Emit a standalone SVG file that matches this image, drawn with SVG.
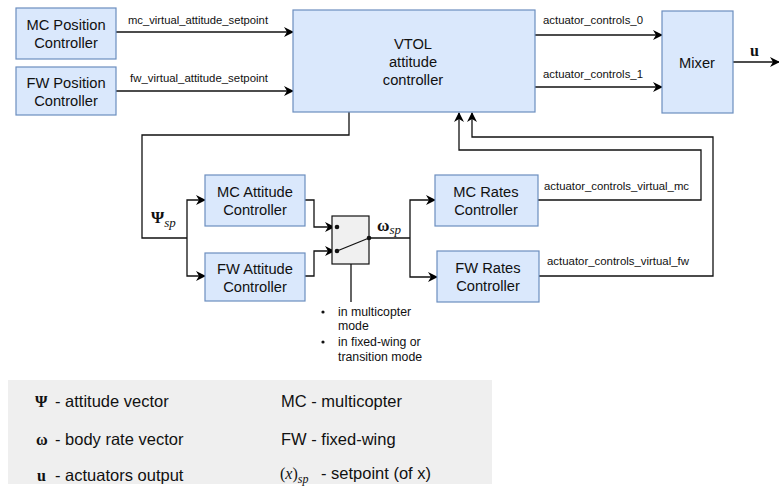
<svg xmlns="http://www.w3.org/2000/svg" width="779" height="493" viewBox="0 0 779 493">
<defs>
<marker id="ah" viewBox="0 0 10 10" refX="9" refY="5" markerWidth="10" markerHeight="10" markerUnits="userSpaceOnUse" orient="auto">
<path d="M0,0 L10,5 L0,10 L3,5 Z" fill="#000"/>
</marker>
<style>
.box{fill:#dae8fc;stroke:#6c8ebf;stroke-width:1.2}
.t{font-family:"Liberation Sans",Arial,sans-serif;font-size:14.7px;fill:#111;text-anchor:middle}
.el{font-family:"Liberation Sans",Arial,sans-serif;font-size:11px;fill:#111}
.ln{fill:none;stroke:#111;stroke-width:1.3}
.ar{fill:none;stroke:#111;stroke-width:1.3;marker-end:url(#ah)}
.m{font-family:"Liberation Serif","Times New Roman",serif;fill:#111}
.lg{font-family:"Liberation Sans",Arial,sans-serif;font-size:16.5px;fill:#111}
.bl{font-family:"Liberation Sans",Arial,sans-serif;font-size:12.3px;fill:#111}
</style>
</defs>
<rect width="779" height="493" fill="#fff"/>
<g id="connectors">
<path class="ar" d="M116,32 H293"/>
<path class="ar" d="M116,91 H293"/>
<path class="ar" d="M535,35 H662"/>
<path class="ar" d="M535,87 H662"/>
<path class="ar" d="M733,62 H779"/>
<path class="ln" d="M349,112 V135 H142 V238 H187"/>
<path class="ar" d="M187,238 V200 H205"/>
<path class="ar" d="M187,238 V276 H205"/>
<path class="ar" d="M305,200 H314 V227 H334"/>
<path class="ar" d="M305,276 H314 V251 H334"/>
<path class="ln" d="M369,238 H410"/>
<path class="ar" d="M410,238 V200 H435"/>
<path class="ar" d="M410,238 V277 H437"/>
<path class="ar" d="M538,200 H701 V150 H459 V113"/>
<path class="ar" d="M539,276 H713 V137 H472 V113"/>
<path class="ln" d="M351,264 V302"/>
<text class="el" x="128" y="24" textLength="140" lengthAdjust="spacingAndGlyphs">mc_virtual_attitude_setpoint</text>
<text class="el" x="130" y="82" textLength="138" lengthAdjust="spacingAndGlyphs">fw_virtual_attitude_setpoint</text>
<text class="el" x="543" y="24" textLength="100" lengthAdjust="spacingAndGlyphs">actuator_controls_0</text>
<text class="el" x="543" y="78" textLength="100" lengthAdjust="spacingAndGlyphs">actuator_controls_1</text>
<text class="el" x="544" y="190" textLength="145" lengthAdjust="spacingAndGlyphs">actuator_controls_virtual_mc</text>
<text class="el" x="547" y="265" textLength="142" lengthAdjust="spacingAndGlyphs">actuator_controls_virtual_fw</text>
<text class="m" x="750" y="56" style="font-size:16px;font-weight:bold">u</text>
<text class="m" x="151" y="223" style="font-size:17px;font-weight:bold">Ψ<tspan style="font-size:13px;font-style:italic;font-weight:normal" dy="4">sp</tspan></text>
<text class="m" x="377" y="231" style="font-size:17px;font-weight:bold">ω<tspan style="font-size:13px;font-style:italic;font-weight:normal" dy="3">sp</tspan></text>
</g>
<g id="mc_pos"><rect class="box" x="16" y="8" width="100" height="51"/><text class="t" x="66" y="30">MC Position</text><text class="t" x="66" y="48">Controller</text></g>
<g id="fw_pos"><rect class="box" x="16" y="67" width="100" height="48"/><text class="t" x="66" y="88">FW Position</text><text class="t" x="66" y="106">Controller</text></g>
<g id="vtol"><rect class="box" x="293" y="10" width="242" height="102"/><text class="t" x="413" y="49">VTOL</text><text class="t" x="413" y="67">attitude</text><text class="t" x="413" y="85">controller</text></g>
<g id="mixer"><rect class="box" x="662" y="11" width="71" height="102"/><text class="t" x="697" y="68">Mixer</text></g>
<g id="mc_att"><rect class="box" x="205" y="175" width="100" height="51"/><text class="t" x="255" y="197">MC Attitude</text><text class="t" x="255" y="215">Controller</text></g>
<g id="fw_att"><rect class="box" x="205" y="253" width="100" height="48"/><text class="t" x="255" y="274">FW Attitude</text><text class="t" x="255" y="292">Controller</text></g>
<g id="switch"><rect x="332" y="216" width="37" height="48" fill="#f0f0f0" stroke="#111" stroke-width="1.2"/>
<path d="M337,251 L369,238" stroke="#111" stroke-width="1.3" fill="none"/>
<circle cx="337" cy="227" r="2.3" fill="#111"/><circle cx="337" cy="251" r="2.3" fill="#111"/><circle cx="369" cy="238" r="2.3" fill="#111"/></g>
<g id="mc_rates"><rect class="box" x="435" y="175" width="103" height="51"/><text class="t" x="486" y="197">MC Rates</text><text class="t" x="486" y="215">Controller</text></g>
<g id="fw_rates"><rect class="box" x="437" y="251" width="102" height="51"/><text class="t" x="488" y="273">FW Rates</text><text class="t" x="488" y="291">Controller</text></g>
<g id="note">
<circle cx="323" cy="312" r="1.6" fill="#111"/><circle cx="323" cy="342" r="1.6" fill="#111"/>
<text class="bl" x="338" y="316">in multicopter</text>
<text class="bl" x="338" y="330">mode</text>
<text class="bl" x="338" y="346">in fixed-wing or</text>
<text class="bl" x="338" y="361">transition mode</text>
</g>
<g id="legend">
<rect x="8" y="380" width="484" height="104" fill="#efefef"/>
<text class="m" x="35" y="407" style="font-weight:bold;font-size:16px">Ψ</text><text class="lg" x="55" y="407">- attitude vector</text>
<text class="m" x="36" y="445" style="font-weight:bold;font-size:16px">ω</text><text class="lg" x="55" y="445">- body rate vector</text>
<text class="m" x="37" y="481" style="font-weight:bold;font-size:16px">u</text><text class="lg" x="55" y="481">- actuators output</text>
<text class="lg" x="281" y="407">MC - multicopter</text>
<text class="lg" x="281" y="445">FW - fixed-wing</text>
<text class="m" x="280" y="479" style="font-size:16px">(<tspan style="font-style:italic">x</tspan>)<tspan style="font-style:italic;font-size:12px" dy="4">sp</tspan></text>
<text class="lg" x="321" y="479">- setpoint (of x)</text>
</g>
</svg>
